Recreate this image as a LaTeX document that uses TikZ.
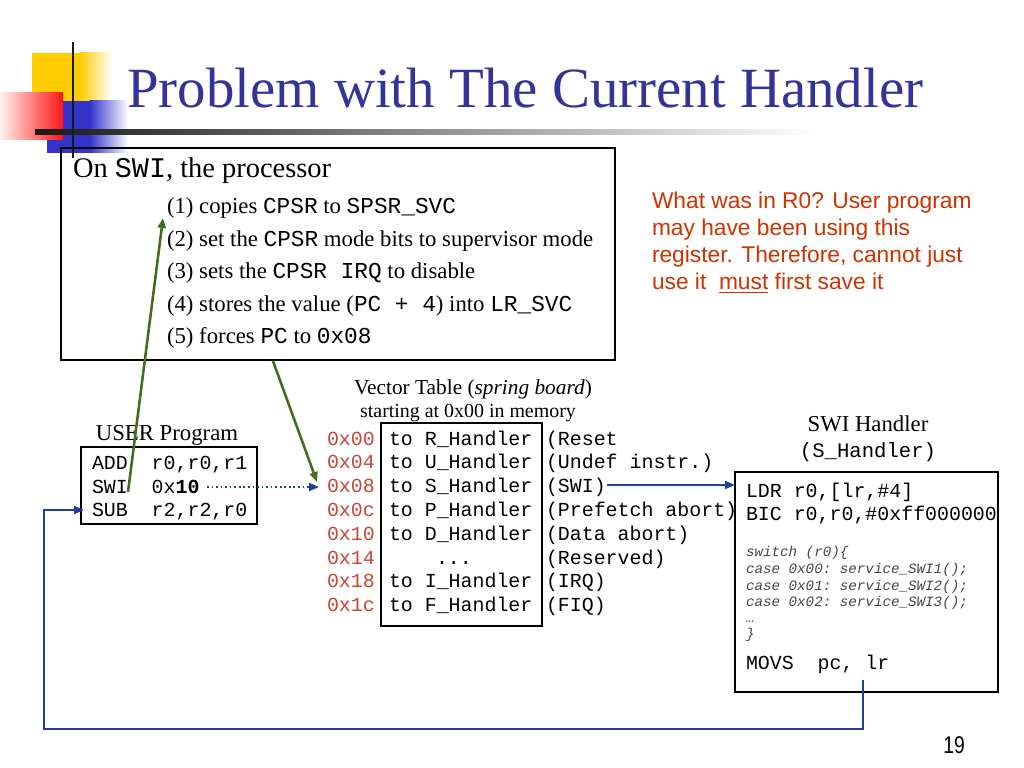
\documentclass[tikz,border=0pt]{standalone}
\usepackage{fontspec}
\setmainfont{Liberation Serif}
\setsansfont{Liberation Sans}
\setmonofont{Liberation Mono}
\usetikzlibrary{arrows.meta}
\definecolor{titleblue}{RGB}{51,51,153}
\definecolor{notered}{RGB}{204,51,0}
\definecolor{addrred}{RGB}{204,68,51}
\definecolor{arrgreen}{RGB}{64,110,30}
\definecolor{arrblue}{RGB}{31,64,150}
\definecolor{decoyellow}{RGB}{255,204,0}
\definecolor{decoblue}{RGB}{51,51,204}
\definecolor{decored}{RGB}{255,20,20}
\definecolor{codegray}{RGB}{70,70,70}
\definecolor{decoblack}{RGB}{25,25,25}
\begin{document}
\begin{tikzpicture}[x=0.703125pt,y=-0.703125pt,
  every node/.style={inner sep=0pt,outer sep=0pt,anchor=base west},
  big/.style={font=\fontsize{20}{24}\selectfont},
  steptxt/.style={font=\fontsize{16}{19}\selectfont},
  note/.style={font=\sffamily\fontsize{16}{19}\selectfont,text=notered},
  captxt/.style={anchor=base,font=\fontsize{16}{19}\selectfont},
  code/.style={font=\ttfamily\fontsize{14}{17}\selectfont},
  addr/.style={font=\ttfamily\fontsize{14}{17}\selectfont,text=addrred},
  small/.style={font=\ttfamily\itshape\fontsize{10}{12}\selectfont,text=codegray},
  boxline/.style={draw=black,line width=0.75pt},
  garrow/.style={draw=arrgreen,line width=1.8pt,-{Triangle[length=7pt,width=5.6pt]}},
  barrow/.style={draw=arrblue,line width=1.4pt,-{Triangle[length=7pt,width=5.6pt]}},
  darrow/.style={draw=arrblue,line width=1.2pt,dotted,-{Triangle[length=7pt,width=5.6pt]}}]
\useasboundingbox (0,0) rectangle (1024,768);
\fill[white] (0,0) rectangle (1024,768);
% decoration
\fill[decoyellow] (32,53) rectangle (80,101);
\shade[left color=decoyellow,right color=white] (79.5,53) rectangle (112,101);
\fill[decoblue] (47,101) rectangle (90,153);
\shade[left color=decoblue,right color=white] (89.5,101) rectangle (128,153);
\shade[left color=decored!6,right color=decored] (0,93) rectangle (63,140);
\shade[left color=decoblack,right color=white] (35,130) rectangle (815,134.5);
\draw[decoblack,line width=2.1pt] (73,42) -- (73,158);
% title
\node[font=\fontsize{40}{48}\selectfont,text=titleblue] (title) at (127,108) {Problem with The Current Handler};
% box 1
\draw[boxline] (61,148) rectangle (615,360);
\node[big] (on) at (73,178) {On \texttt{SWI}, the processor};
\node[steptxt] (s1) at (167,214) {(1) copies \texttt{CPSR} to \texttt{SPSR\_SVC}};
\node[steptxt] (s2) at (167,247) {(2) set the \texttt{CPSR} mode bits to supervisor mode};
\node[steptxt] (s3) at (167,279) {(3) sets the \texttt{CPSR IRQ} to disable};
\node[steptxt] (s4) at (167,312) {(4) stores the value (\texttt{PC + 4}) into \texttt{LR\_SVC}};
\node[steptxt] (s5) at (167,344) {(5) forces \texttt{PC} to \texttt{0x08}};
% note
\node[note] (n1) at (652,209) {What was in R0? User program};
\node[note] (n2) at (652,236) {may have been using this};
\node[note] (n3) at (652,263) {register. Therefore, cannot just};
\node[note] (n4) at (652,290) {use it\ \ \underline{must} first save it};
% vector table
\node[anchor=base,font=\fontsize{15}{18}\selectfont] (vt) at (473,394) {Vector Table (\textit{spring board})};
\node[anchor=base,font=\fontsize{14}{17}\selectfont] (vt2) at (468,417) {starting at 0x00 in memory};
\draw[boxline] (381,423) rectangle (542,626);
\node[addr] (a0) at (327,445.0) {0x00};
\node[addr] (a1) at (327,468.8) {0x04};
\node[addr] (a2) at (327,492.6) {0x08};
\node[addr] (a3) at (327,516.4) {0x0c};
\node[addr] (a4) at (327,540.2) {0x10};
\node[addr] (a5) at (327,564.0) {0x14};
\node[addr] (a6) at (327,587.8) {0x18};
\node[addr] (a7) at (327,611.6) {0x1c};
\node[code] (v0) at (389,445.0) {to R\_Handler};
\node[code] (v1) at (389,468.8) {to U\_Handler};
\node[code] (v2) at (389,492.6) {to S\_Handler};
\node[code] (v3) at (389,516.4) {to P\_Handler};
\node[code] (v4) at (389,540.2) {to D\_Handler};
\node[code] (v5) at (436,564.0) {...};
\node[code] (v6) at (389,587.8) {to I\_Handler};
\node[code] (v7) at (389,611.6) {to F\_Handler};
\node[code] (l0) at (546,445.0) {(Reset};
\node[code] (l1) at (546,468.8) {(Undef instr.)};
\node[code] (l2) at (546,492.6) {(SWI)};
\node[code] (l3) at (546,516.4) {(Prefetch abort)};
\node[code] (l4) at (546,540.2) {(Data abort)};
\node[code] (l5) at (546,564.0) {(Reserved)};
\node[code] (l6) at (546,587.8) {(IRQ)};
\node[code] (l7) at (546,611.6) {(FIQ)};
% user program
\node[captxt] (ut) at (167,440) {USER Program};
\draw[boxline] (81,447) rectangle (257,524);
\node[code] (u1) at (92,469.5) {ADD\ \ r0,r0,r1};
\node[code] (u2) at (92,493) {SWI\ \ 0x\textbf{10}};
\node[code] (u3) at (92,516.5) {SUB\ \ r2,r2,r0};
% SWI handler
\node[captxt] (ht) at (868,431) {SWI Handler};
\node[anchor=base,font=\ttfamily\fontsize{14.5}{17}\selectfont] (ht2) at (868,457) {(S\_Handler)};
\draw[boxline] (735,472) rectangle (998,692);
\node[code] (h1) at (746,497) {LDR r0,[lr,\#4]};
\node[code] (h2) at (746,520) {BIC r0,r0,\#0xff000000};
\node[small] (h3) at (746,556) {switch (r0)\{};
\node[small] (h4) at (746,573) {case 0x00: service\_SWI1();};
\node[small] (h5) at (746,590) {case 0x01: service\_SWI2();};
\node[small] (h6) at (746,606) {case 0x02: service\_SWI3();};
\node[small] (h7) at (746,622) {…};
\node[small] (h8) at (746,638) {\}};
\node[code] (h9) at (746,669) {MOVS\ \ pc, lr};
% page number
\node[anchor=base,font=\sffamily\fontsize{17}{20}\selectfont,xscale=0.8] (pg) at (954,753) {19};
% connectors
\coordinate (g1s) at (128,492);
\coordinate (g1e) at (163,218);
\coordinate (g2s) at (273,361);
\coordinate (g2e) at (317,482);
\coordinate (ds) at (207,487);
\coordinate (de) at (319,487);
\coordinate (bs) at (607,485);
\coordinate (be) at (735,485);
\coordinate (rs) at (863,680);
\coordinate (rc1) at (863,729);
\coordinate (rc2) at (44,729);
\coordinate (rc3) at (44,510);
\coordinate (re) at (84,510);
\draw[garrow] (g1s) -- (g1e);
\draw[garrow] (g2s) -- (g2e);
\draw[darrow] (ds) -- (de);
\draw[barrow] (bs) -- (be);
\draw[barrow] (rs) -- (rc1) -- (rc2) -- (rc3) -- (re);
\end{tikzpicture}
\end{document}
